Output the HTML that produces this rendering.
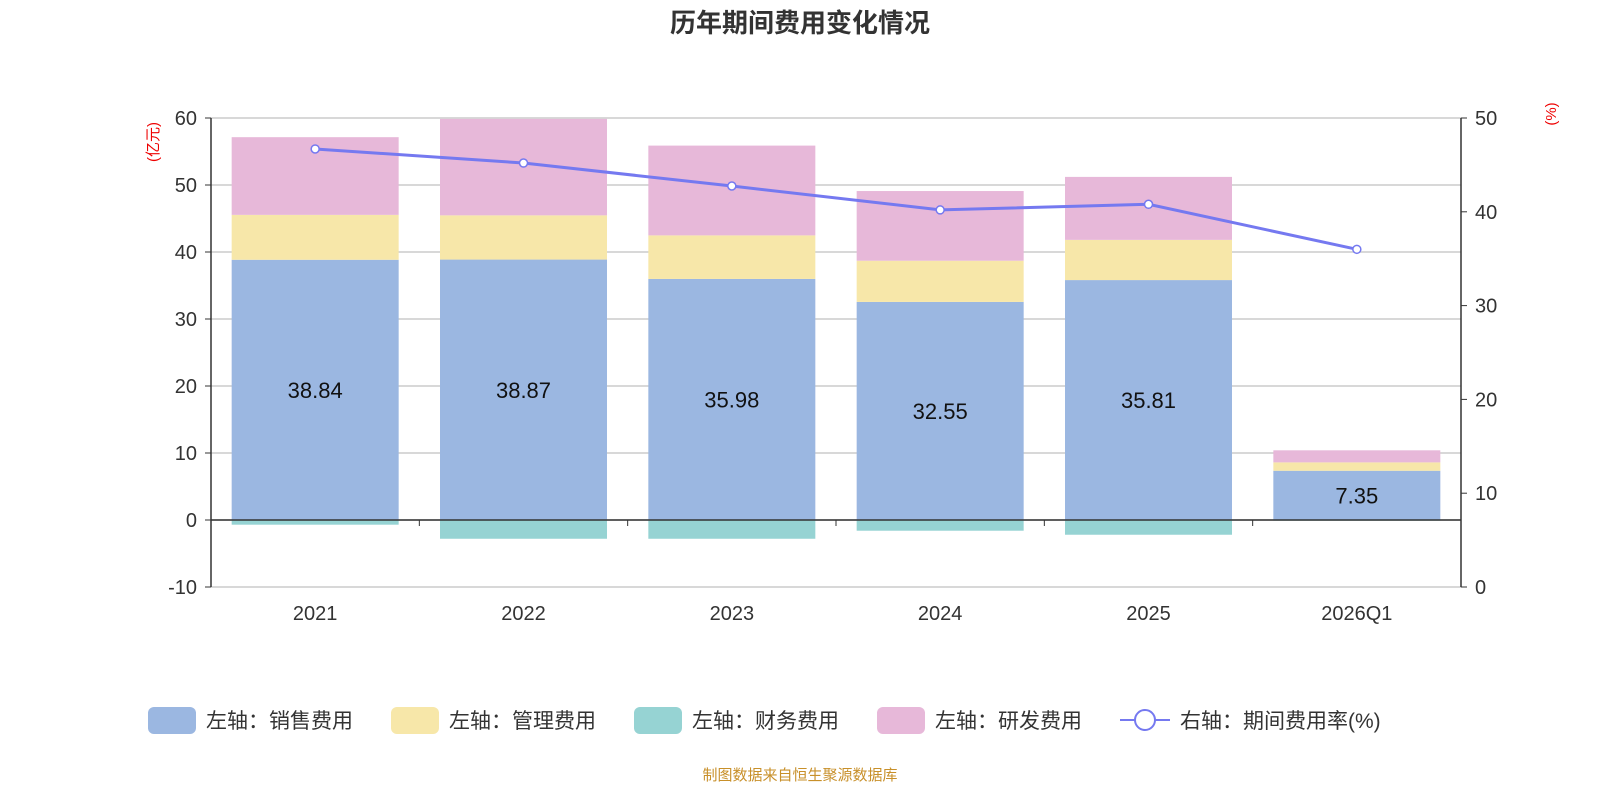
<!DOCTYPE html>
<html><head><meta charset="utf-8">
<style>
body{margin:0;background:#fff;width:1600px;height:800px;overflow:hidden;font-family:"Liberation Sans","Noto Sans CJK SC",sans-serif;}
</style></head>
<body>
<svg id="chart" width="1600" height="800" xmlns="http://www.w3.org/2000/svg" font-family="Liberation Sans, Noto Sans CJK SC, sans-serif">
<text x="800" y="32" text-anchor="middle" font-size="26" font-weight="bold" fill="#333">历年期间费用变化情况</text>
<text transform="translate(158,142) rotate(-90)" text-anchor="middle" font-size="15" fill="#e00">(亿元)</text>
<text transform="translate(1556,114) rotate(-90)" text-anchor="middle" font-size="15" fill="#e00">(%)</text>
<g id="grid"></g><g id="bars"></g><g id="axes"></g><g id="line"></g>
<g id="legend" font-size="21" fill="#333"></g>
<text x="800" y="780" text-anchor="middle" font-size="15" fill="#c8902a">制图数据来自恒生聚源数据库</text>
</svg>
<script>
const categories=["2021","2022","2023","2024","2025","2026Q1"];
const sales=[38.84,38.87,35.98,32.55,35.81,7.35];
const mgmt=[6.7,6.6,6.5,6.15,6.0,1.25];
const finance=[-0.7,-2.8,-2.8,-1.6,-2.2,-0.1];
const rnd=[11.6,14.4,13.4,10.4,9.4,1.8];
const rate=[46.7,45.2,42.75,40.2,40.8,36.0];
const leftTicks=[-10,0,10,20,30,40,50,60];
const rightTicks=[0,10,20,30,40,50];
const NS="http://www.w3.org/2000/svg";
const X0=211,X1=1461,YT=118,YB=587;
const yL=v=>YB-(v+10)/70*(YB-YT);
const yR=v=>YB-v/50*(YB-YT);
const band=(X1-X0)/categories.length;
const xC=i=>X0+band*(i+0.5);
function mk(p,tag,a,txt){const e=document.createElementNS(NS,tag);for(const k in a)e.setAttribute(k,a[k]);if(txt!=null)e.textContent=txt;document.getElementById(p).appendChild(e);return e;}
leftTicks.forEach(t=>{
 const g=mk('grid','line',{x1:X0,x2:X1,y1:yL(t),y2:yL(t),stroke:'#ccc','stroke-width':1.5});
 
 const l=mk('axes','text',{x:X0-14,y:yL(t)+7,'text-anchor':'end','font-size':20,fill:'#333'},String(t));
 
 mk('axes','line',{x1:X0-6,x2:X0,y1:yL(t),y2:yL(t),stroke:'#333'});
});
rightTicks.forEach(t=>{
 const l=mk('axes','text',{x:X1+14,y:yR(t)+7,'font-size':20,fill:'#333'},String(t));
 
 mk('axes','line',{x1:X1,x2:X1+6,y1:yR(t),y2:yR(t),stroke:'#333'});
});
mk('axes','line',{x1:X0,x2:X0,y1:YT,y2:YB,stroke:'#333','stroke-width':1.5});
mk('axes','line',{x1:X1,x2:X1,y1:YT,y2:YB,stroke:'#333','stroke-width':1.5});
mk('axes','line',{x1:X0,x2:X1,y1:yL(0),y2:yL(0),stroke:'#333','stroke-width':1.5});
const bw=167;
categories.forEach((c,i)=>{
 mk('axes','line',{x1:X0+band*i,x2:X0+band*i,y1:yL(0),y2:yL(0)+6,stroke:'#333'});
 const cl=mk('axes','text',{x:xC(i),y:620,'text-anchor':'middle','font-size':20,fill:'#333'},c);
 
 const x=xC(i)-bw/2;
 const segs=[[0,sales[i],'#9bb7e1','bar-sales'],[sales[i],sales[i]+mgmt[i],'#f7e7a9','bar-mgmt'],[sales[i]+mgmt[i],sales[i]+mgmt[i]+rnd[i],'#e7b8d9','bar-rnd'],[finance[i],0,'#96d3d3','bar-finance']];
 segs.forEach(s=>{
  const r=mk('bars','rect',{x:x,width:bw,y:yL(s[1]),height:yL(s[0])-yL(s[1]),fill:s[2]});
  
 });
 const v=mk('bars','text',{x:xC(i),y:(yL(0)+yL(sales[i]))/2+8,'text-anchor':'middle','font-size':22,fill:'#111'},sales[i].toFixed(2));
 
});
const pl=mk('line','polyline',{points:rate.map((v,i)=>xC(i)+','+yR(v)).join(' '),fill:'none',stroke:'#7579f0','stroke-width':3});

rate.forEach((v,i)=>{const p=mk('line','circle',{cx:xC(i),cy:yR(v),r:4,fill:'#fff',stroke:'#7579f0','stroke-width':1.5});
 });
const leg=[['左轴：销售费用','#9bb7e1',148],['左轴：管理费用','#f7e7a9',391],['左轴：财务费用','#96d3d3',634],['左轴：研发费用','#e7b8d9',877]];
leg.forEach(l=>{
 const r=mk('legend','rect',{x:l[2],y:707,width:48,height:27,rx:6,fill:l[1]});
 
 const t=mk('legend','text',{x:l[2]+58,y:728},l[0]);
 
});
mk('legend','line',{x1:1120,x2:1170,y1:720,y2:720,stroke:'#7579f0','stroke-width':2});
mk('legend','circle',{cx:1145,cy:720,r:10,fill:'#fff',stroke:'#7579f0','stroke-width':2});
const lt=mk('legend','text',{x:1180,y:728},'右轴：期间费用率(%)');

</script>
</body></html>
